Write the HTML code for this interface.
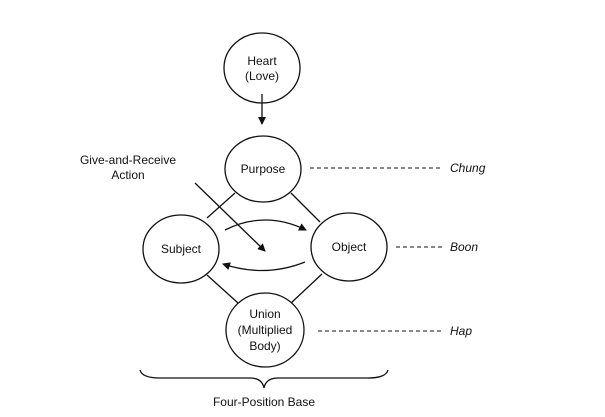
<!DOCTYPE html><html><head><style>body{margin:0;background:#fff}svg{display:block}text{font-family:"Liberation Sans",sans-serif;font-size:12px;fill:#111}</style></head><body>
<svg width="605" height="417" viewBox="0 0 605 417">
<defs><marker id="a" markerWidth="8" markerHeight="8" refX="7" refY="4" orient="auto" markerUnits="userSpaceOnUse"><path d="M0,0L8,4L0,8z" fill="#111"/></marker></defs>
<g fill="none" stroke="#111" stroke-width="1.3">
<ellipse cx="262" cy="68" rx="38" ry="35"/>
<ellipse cx="263" cy="169" rx="38" ry="33"/>
<ellipse cx="181" cy="249" rx="38" ry="34"/>
<ellipse cx="349" cy="247" rx="38" ry="34"/>
<ellipse cx="265" cy="330" rx="39" ry="37"/>
<line x1="262" y1="94" x2="262" y2="124" marker-end="url(#a)"/>
<line x1="235" y1="193" x2="207" y2="218"/>
<line x1="291" y1="193" x2="320" y2="222"/>
<line x1="207" y1="275" x2="238" y2="303"/>
<line x1="322" y1="274" x2="291" y2="303"/>
<path d="M225,230 Q265,210 306,230" marker-end="url(#a)"/>
<path d="M305,262 Q265,278 223,264" marker-end="url(#a)"/>
<line x1="195" y1="183" x2="265" y2="251" marker-end="url(#a)"/>
<path d="M140,370 Q142,378 160,378 L250,378 Q262,378 264,388 Q266,378 278,378 L368,378 Q386,378 388,370"/>
</g>
<g stroke="#111" stroke-width="1" stroke-dasharray="4,3">
<line x1="310" y1="168" x2="442" y2="168"/>
<line x1="396" y1="247" x2="442" y2="247"/>
<line x1="318" y1="331" x2="442" y2="331"/>
</g>
<g text-anchor="middle">
<text x="262" y="65">Heart</text><text x="262" y="80">(Love)</text>
<text x="263" y="173">Purpose</text>
<text x="181" y="253">Subject</text>
<text x="349" y="251">Object</text>
<text x="265" y="318">Union</text><text x="265" y="334">(Multiplied</text><text x="265" y="350">Body)</text>
<text x="128" y="164">Give-and-Receive</text><text x="128" y="179">Action</text>
<text x="264" y="406">Four-Position Base</text>
</g>
<g font-style="italic"><text x="450" y="172" font-style="italic">Chung</text><text x="450" y="251" font-style="italic">Boon</text><text x="450" y="335" font-style="italic">Hap</text></g>
</svg></body></html>
